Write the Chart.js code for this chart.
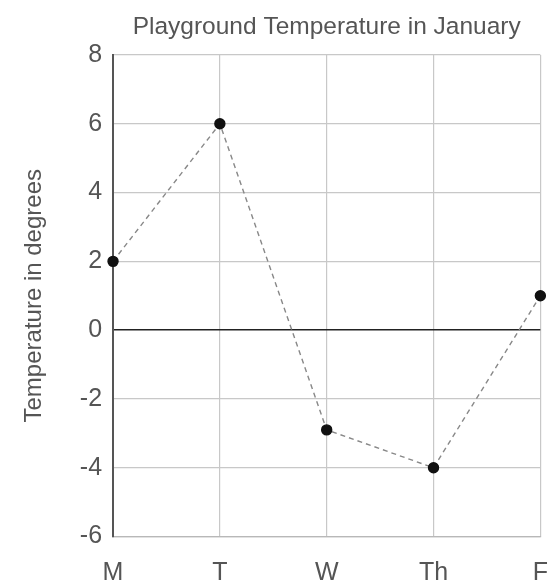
<!DOCTYPE html>
<html>
<head>
<meta charset="utf-8">
<script src="https://cdn.jsdelivr.net/npm/chart.js@4"></script>
<style>
  html, body { margin: 0; padding: 0; background: #fff; overflow: hidden; }
  #wrap { position: relative; width: 550px; height: 585px; }
</style>
</head>
<body>
<div id="wrap"><canvas id="c"></canvas></div>
<script>
const days = ['M', 'T', 'W', 'Th', 'F'];
const temperatures = [2, 6, -2.9, -4, 1];
const yMin = -6, yMax = 8, yStep = 2;
const chartTitle = 'Playground Temperature in January';
const yTitle = 'Temperature in degrees';

const FONT = "'Liberation Sans', Arial, sans-serif";
const TEXT = '#555';

// Title centred over the plot area (as in the reference)
const plotTitle = {
  id: 'plotTitle',
  afterDraw(chart) {
    const { ctx, chartArea } = chart;
    ctx.save();
    ctx.font = `24.5px ${FONT}`;
    ctx.fillStyle = TEXT;
    ctx.textAlign = 'center';
    ctx.textBaseline = 'alphabetic';
    ctx.fillText(chartTitle, (chartArea.left + chartArea.right) / 2, 34);
    ctx.restore();
  }
};

new Chart(document.getElementById('c'), {
  type: 'line',
  data: {
    labels: days,
    datasets: [{
      data: temperatures,
      borderColor: '#888',
      borderWidth: 1.4,
      borderDash: [5, 4],
      pointBackgroundColor: '#111',
      pointBorderColor: '#111',
      pointRadius: 5,
      pointHoverRadius: 5,
      tension: 0,
      fill: false
    }]
  },
  plugins: [plotTitle],
  options: {
    responsive: true,
    maintainAspectRatio: false,
    animation: false,
    layout: { padding: { left: 20, top: 55, right: 0, bottom: 0 } },
    plugins: {
      legend: { display: false },
      tooltip: { enabled: false },
      title: { display: false }
    },
    scales: {
      x: {
        offset: false,
        grid: { color: '#c8c8c8', lineWidth: 1.2, drawTicks: true, tickLength: 24, tickColor: 'rgba(0,0,0,0)' },
        border: { color: '#b8b8b8', width: 1.2 },
        ticks: { color: TEXT, font: { family: FONT, size: 25, lineHeight: 0.82 }, padding: 2, maxRotation: 0 }
      },
      y: {
        min: yMin, max: yMax,
        ticks: { stepSize: yStep, color: TEXT, font: { family: FONT, size: 25 }, padding: 11 },
        grid: {
          drawTicks: false,
          color: ctx => ctx.tick && ctx.tick.value === 0 ? '#222' : '#c8c8c8',
          lineWidth: ctx => ctx.tick && ctx.tick.value === 0 ? 1.6 : 1.2
        },
        border: { color: '#555', width: 2 },
        title: {
          display: true,
          text: yTitle,
          color: TEXT,
          font: { family: FONT, size: 24, weight: 'normal' },
          padding: { top: 0, bottom: 20 }
        }
      }
    }
  }
});
</script>
</body>
</html>
